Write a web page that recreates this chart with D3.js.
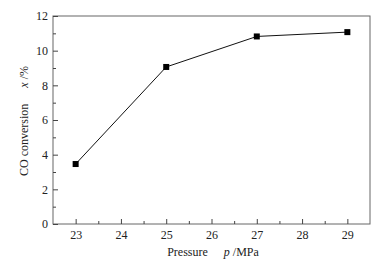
<!DOCTYPE html>
<html>
<head>
<meta charset="utf-8">
<script src="https://cdn.jsdelivr.net/npm/d3@7"></script>
<style>
body { margin: 0; background: #fff; }
text { font-family: "Liberation Serif", "Times New Roman", serif; fill: #222; }
</style>
</head>
<body>
<svg id="chart" width="385" height="263"></svg>
<script>
var width = 385,
    height = 263;

// data
var pressure = [23, 25, 27, 29];
var conversion = [3.46, 9.06, 10.82, 11.07];
var xTicks = [23, 24, 25, 26, 27, 28, 29];
var yTicks = [0, 2, 4, 6, 8, 10, 12];

var margin = { left: 53, right: 15, top: 16, bottom: 39 };

var svg = d3.select("#chart");

var x = d3.scaleLinear().domain([22.5, 29.5]).range([margin.left, width - margin.right]);
var y = d3.scaleLinear().domain([0, 12]).range([height - margin.bottom, margin.top]);

// frame
svg.append("rect")
    .attr("x", x(22.5))
    .attr("y", y(12))
    .attr("width", x(29.5) - x(22.5))
    .attr("height", y(0) - y(12))
    .attr("fill", "none")
    .attr("stroke", "#666")
    .attr("stroke-width", 1);

// x axis, ticks inward
var xAxis = svg.append("g")
    .attr("transform", "translate(0," + y(0) + ")")
    .call(d3.axisBottom(x).tickValues(xTicks).tickSizeInner(-5).tickSizeOuter(0).tickPadding(6).tickFormat(d3.format("d")));
xAxis.select(".domain").remove();
xAxis.selectAll("text").attr("font-size", 12);
svg.append("g")
    .attr("transform", "translate(0," + y(0) + ")")
    .call(d3.axisBottom(x).tickValues(d3.range(23.5, 29.5, 1)).tickSizeInner(-3).tickSizeOuter(0).tickFormat(""))
    .select(".domain").remove();

// y axis, ticks inward
var yAxis = svg.append("g")
    .attr("transform", "translate(" + x(22.5) + ",0)")
    .call(d3.axisLeft(y).tickValues(yTicks).tickSizeInner(-5).tickSizeOuter(0).tickPadding(5).tickFormat(d3.format("d")));
yAxis.select(".domain").remove();
yAxis.selectAll("text").attr("font-size", 12);
svg.append("g")
    .attr("transform", "translate(" + x(22.5) + ",0)")
    .call(d3.axisLeft(y).tickValues(d3.range(1, 12, 2)).tickSizeInner(-3).tickSizeOuter(0).tickFormat(""))
    .select(".domain").remove();

svg.selectAll(".tick line").attr("stroke", "#444");

// line and markers
var points = pressure.map(function (d, i) {
    return [d, conversion[i]];
});

svg.append("path")
    .datum(points)
    .attr("fill", "none")
    .attr("stroke", "#111")
    .attr("stroke-width", 1)
    .attr("d", d3.line()
        .x(function (d) { return x(d[0]); })
        .y(function (d) { return y(d[1]); }));

svg.selectAll(".marker")
    .data(points)
    .join("rect")
    .attr("class", "marker")
    .attr("x", function (d) { return x(d[0]) - 3; })
    .attr("y", function (d) { return y(d[1]) - 3; })
    .attr("width", 6)
    .attr("height", 6)
    .attr("fill", "#000");

// axis titles
var xt = svg.append("text")
    .attr("x", 213)
    .attr("y", 256)
    .attr("text-anchor", "middle")
    .attr("font-size", 12);
xt.append("tspan").text("Pressure");
xt.append("tspan").attr("dx", 16).attr("font-style", "italic").text("p");
xt.append("tspan").text(" /MPa");

var yt = svg.append("text")
    .attr("transform", "translate(28," + 121 + ") rotate(-90)")
    .attr("text-anchor", "middle")
    .attr("font-size", 12);
yt.append("tspan").text("CO conversion");
yt.append("tspan").attr("dx", 16).attr("font-style", "italic").text("x");
yt.append("tspan").text(" /%");
</script>
</body>
</html>
